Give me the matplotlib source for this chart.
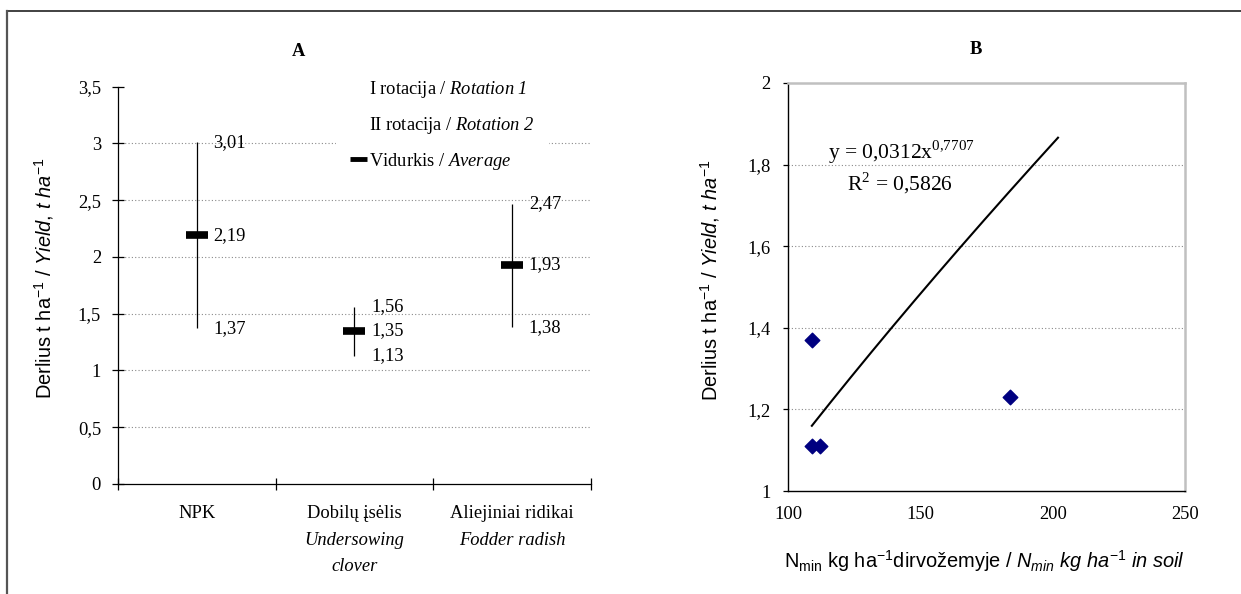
import numpy as np
import matplotlib
matplotlib.use('Agg')
import matplotlib.pyplot as plt
from matplotlib.lines import Line2D
from matplotlib.ticker import FuncFormatter

plt.rcParams['font.family'] = ['Liberation Serif', 'DejaVu Serif']
plt.rcParams['mathtext.fontset'] = 'custom'
plt.rcParams['mathtext.rm'] = 'Liberation Sans'
plt.rcParams['mathtext.it'] = 'Liberation Sans:italic'
plt.rcParams['mathtext.cal'] = 'Liberation Serif:italic'
plt.rcParams['mathtext.tt'] = 'Liberation Serif'

# Panel A data: yield range per pre-crop treatment
treatments_lt = ['NPK', 'Dobilų įsėlis', 'Aliejiniai ridikai']
treatments_en = [[], ['Undersowing', 'clover'], ['Fodder radish']]
yield_max = [3.01, 1.56, 2.47]
yield_mean = [2.19, 1.35, 1.93]
yield_min = [1.37, 1.13, 1.38]
legend_labels = ['I rotacija / $\\mathcal{Rotation}$ $\\mathcal{1}$',
                 'II rotacija / $\\mathcal{Rotation}$ $\\mathcal{2}$',
                 'Vidurkis / $\\mathcal{Average}$']

# Panel B data: yield vs mineral N in soil
nmin_soil = [109, 109, 112, 184]
yield_b = [1.37, 1.11, 1.11, 1.23]
# power trend line printed on the chart: y = 0,0312x^0,7707
trend_a = 0.0312
trend_b = 0.7707
trend_r2 = 0.5826
trend_x_range = (109, 202)

FS = 13.3
LFS = 14.4
GRID = dict(color='#8a8a8a', lw=0.8, linestyle=(0, (1, 2)))


def comma(v, pos=None):
    return f'{v:g}'.replace('.', ',')


fig = plt.figure(figsize=(12.41, 5.94), dpi=100)

# outer frame (top and left edge only)
fig.add_artist(Line2D([0.0058, 1], [0.9823, 0.9823], transform=fig.transFigure,
                      color='#333333', lw=1.3))
fig.add_artist(Line2D([0.0058, 0.0058], [0, 0.9823], transform=fig.transFigure,
                      color='#555555', lw=1.6))

# ---------------- Panel A ----------------
axA = fig.add_axes([0.0951, 0.1852, 0.3811, 0.6689])
x = np.arange(len(treatments_lt)) + 0.5
axA.set_xlim(0, len(treatments_lt))
axA.set_ylim(0, 3.5)
axA.set_yticks(np.arange(0, 3.51, 0.5))
axA.yaxis.set_major_formatter(FuncFormatter(comma))
axA.set_xticks(np.arange(len(treatments_lt) + 1))
axA.set_xticklabels([])
axA.tick_params(axis='y', direction='inout', length=8.5, width=0.9, pad=8, labelsize=FS)
axA.tick_params(axis='x', direction='inout', length=9, width=0.9)
for s in ['top', 'right']:
    axA.spines[s].set_visible(False)
for s in ['left', 'bottom']:
    axA.spines[s].set_linewidth(0.9)
axA.grid(axis='y', **GRID)
glines = axA.get_ygridlines()
glines[0].set_visible(False)
glines[-1].set_visible(False)

axA.vlines(x, yield_min, yield_max, color='black', lw=0.9, zorder=3)
axA.plot(x, yield_mean, ls='none', marker='_', ms=15.5, mew=5.5, color='black', zorder=4)
for xi, lo, mid, hi in zip(x, yield_min, yield_mean, yield_max):
    for v in (lo, mid, hi):
        axA.annotate(comma(v), (xi, v), xytext=(12, 0), textcoords='offset points',
                     ha='left', va='center', fontsize=FS)

for xi, lt, en in zip(x, treatments_lt, treatments_en):
    axA.annotate(lt, (xi, 0), xytext=(0, -21), textcoords='offset points',
                 ha='center', va='center', fontsize=FS, annotation_clip=False)
    for k, line in enumerate(en):
        axA.annotate(line, (xi, 0), xytext=(0, -40.5 - 19 * k), textcoords='offset points',
                     ha='center', va='center', fontsize=FS, style='italic',
                     annotation_clip=False)

handles = [Line2D([], [], ls='none'), Line2D([], [], ls='none'),
           Line2D([], [], color='black', lw=3.5, solid_capstyle='butt')]
leg = axA.legend(handles, legend_labels, loc='upper left', bbox_to_anchor=(0.461, 1.055),
                 fontsize=FS, frameon=True, fancybox=False, framealpha=1,
                 facecolor='white', edgecolor='none', borderpad=0.75, borderaxespad=0,
                 handlelength=0.9, handletextpad=0.15, labelspacing=0.82)

axA.set_ylabel('Derlius t ha$^{-1}$ / $\\mathit{Yield{,}}$ $\\mathit{t}$ $\\mathit{ha}^{-1}$',
               family='Liberation Sans', fontsize=LFS, va='center')
axA.yaxis.set_label_coords(-0.1554, 0.5185)
fig.text(0.2409, 0.9141, 'A', ha='center', va='center', fontsize=FS, weight='bold')

# ---------------- Panel B ----------------
axB = fig.add_axes([0.6350, 0.1734, 0.3199, 0.6869])
axB.set_xlim(100, 250)
axB.set_ylim(1, 2)
axB.set_xticks([100, 150, 200, 250])
axB.set_yticks(np.arange(1, 2.01, 0.2))
axB.yaxis.set_major_formatter(FuncFormatter(comma))
axB.tick_params(axis='y', direction='out', length=3.6, width=0.9, pad=9, labelsize=FS)
axB.tick_params(axis='x', length=0, pad=10.5, labelsize=FS)
for s in ['left', 'bottom']:
    axB.spines[s].set_linewidth(1.0)
for s in ['top', 'right']:
    axB.spines[s].set_color('#c0c0c0')
    axB.spines[s].set_linewidth(1.8)
axB.grid(axis='y', **GRID)
glines = axB.get_ygridlines()
glines[0].set_visible(False)
glines[-1].set_visible(False)

axB.scatter(nmin_soil, yield_b, marker='D', s=55, color='#000080', zorder=3, clip_on=False)
tx = np.linspace(trend_x_range[0], trend_x_range[1], 200)
axB.plot(tx, trend_a * tx ** trend_b, color='black', lw=1.5, zorder=2)

axB.text(115.1, 1.831, f'y = {comma(trend_a)}x$^{{\\mathtt{{{comma(trend_b).replace(",", "{,}")}}}}}$',
         ha='left', va='center', fontsize=15.5)
axB.text(122.3, 1.755, f'R$^{{\\mathtt{{2}}}}$ = {comma(trend_r2)}', ha='left', va='center',
         fontsize=15.5)

axB.set_ylabel('Derlius t ha$^{-1}$ / $\\mathit{Yield{,}}$ $\\mathit{t}$ $\\mathit{ha}^{-1}$',
               family='Liberation Sans', fontsize=LFS, va='center')
axB.yaxis.set_label_coords(-0.1965, 0.517)
axB.set_xlabel('N$_{\\mathrm{min}}$ kg ha$^{-1}$dirvožemyje / $\\mathit{N}_{\\mathit{min}}$ '
               '$\\mathit{kg}$ $\\mathit{ha}^{-1}$ $\\mathit{in}$ $\\mathit{soil}$',
               family='Liberation Sans', fontsize=LFS, va='center')
axB.xaxis.set_label_coords(0.4937, -0.1716)
fig.text(0.7865, 0.9175, 'B', ha='center', va='center', fontsize=FS, weight='bold')

fig.savefig('out.png', dpi=100)
